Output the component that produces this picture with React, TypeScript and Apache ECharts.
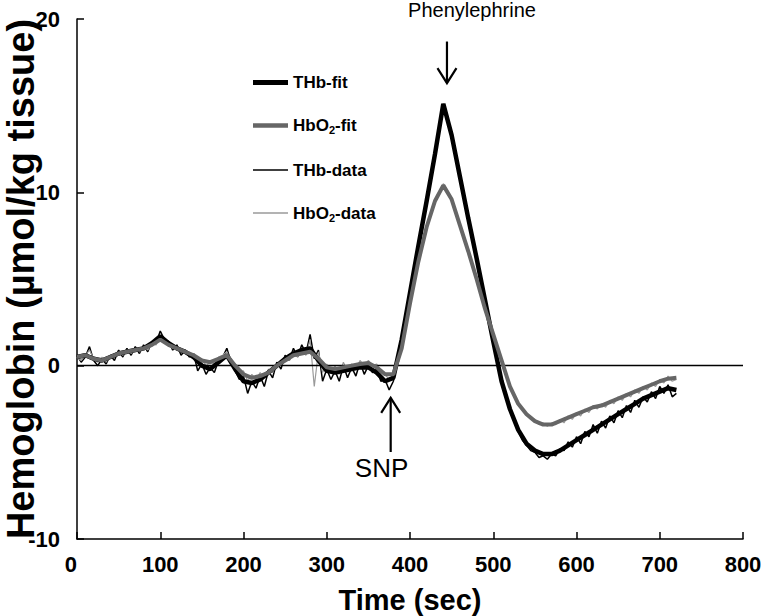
import React, { useEffect, useRef } from "react";
import * as echarts from "echarts";

// ---------- data ----------
const DATA_STEP = 5; // seconds between raw samples
const FIT_STEP = 10; // seconds between fit samples

const thbData = [
  0.6, 0.2, 0.5, 1.1, 0.3, 0.0, 0.4, 0.1, 0.6, 0.3, 0.9, 0.5, 1.0, 0.6, 1.1, 0.7, 1.2, 0.8, 1.4, 1.3,
  2.0, 1.5, 1.4, 0.9, 1.2, 0.6, 0.9, 0.5, 0.7, -0.3, 0.1, -0.5, -0.1, -0.4, 0.3, 0.5, 1.0, 0.2, -0.3, -0.8,
  -0.6, -1.6, -0.9, -1.3, -0.6, -1.2, -0.3, -0.7, 0.2, -0.2, 0.6, 0.3, 1.0, 0.5, 1.2, 0.7, 1.8, 0.4, 0.9, -0.9,
  -0.2, -0.8, -0.3, -0.9, 0.0, -0.7, -0.1, -0.6, 0.2, -0.5, 0.0, -0.4, -0.2, -0.9, -0.8, -1.4, -0.9, 0.2, 1.5, 2.9,
  4.2, 5.5, 6.9, 8.2, 9.5, 10.9, 12.2, 13.5, 15.1, 14.4, 13.3, 12.1, 10.9, 9.7, 8.5, 7.4, 6.2, 5.0, 3.8, 2.6,
  1.4, 0.2, -0.9, -1.8, -2.6, -3.2, -3.8, -4.3, -4.6, -4.9, -5.0, -5.3, -5.2, -5.4, -5.1, -5.2, -4.8, -4.9, -4.4, -4.7,
  -4.1, -4.5, -3.8, -4.1, -3.4, -3.9, -3.2, -3.6, -2.9, -3.3, -2.6, -3.0, -2.3, -2.7, -2.0, -2.4, -1.8, -2.1, -1.5, -1.9,
  -1.2, -1.6, -1.1, -1.8, -1.6,
];

const hbo2Data = [
  0.5, 0.3, 0.6, 0.9, 0.4, 0.2, 0.5, 0.2, 0.6, 0.5, 0.8, 0.6, 0.9, 0.7, 1.0, 0.8, 1.1, 0.9, 1.3, 1.2,
  1.7, 1.4, 1.3, 1.0, 1.1, 0.8, 0.9, 0.6, 0.7, 0.2, 0.4, 0.0, 0.2, 0.1, 0.5, 0.6, 0.8, 0.3, 0.0, -0.4,
  -0.3, -0.9, -0.5, -0.8, -0.4, -0.7, -0.2, -0.4, 0.1, 0.0, 0.5, 0.3, 0.8, 0.5, 0.9, 0.6, 1.5, -1.2, 0.8, -0.4,
  0.1, -0.4, 0.0, -0.5, 0.2, -0.3, 0.1, -0.2, 0.3, 0.0, 0.3, 0.0, 0.1, -0.4, -0.5, -0.8, -0.5, 0.1, 1.0, 2.3,
  3.6, 4.9, 6.0, 7.1, 8.0, 8.8, 9.5, 10.0, 10.5, 10.1, 9.6, 8.9, 8.1, 7.4, 6.6, 5.8, 5.0, 4.2, 3.3, 2.6,
  1.8, 1.0, 0.3, -0.5, -1.2, -1.7, -2.2, -2.5, -2.8, -3.1, -3.2, -3.4, -3.3, -3.5, -3.3, -3.4, -3.1, -3.3, -2.9, -3.1,
  -2.7, -2.9, -2.5, -2.7, -2.3, -2.5, -2.2, -2.4, -2.0, -2.2, -1.8, -2.0, -1.6, -1.8, -1.4, -1.6, -1.2, -1.4, -1.0, -1.2,
  -0.8, -1.0, -0.6, -0.9, -0.8,
];

const thbFit = [
  0.5, 0.6, 0.4, 0.3, 0.5, 0.7, 0.8, 0.9, 1.0, 1.3,
  1.7, 1.3, 1.0, 0.8, 0.5, 0.0, -0.2, 0.2, 0.6, -0.2,
  -0.9, -1.0, -0.8, -0.4, 0.0, 0.4, 0.7, 0.9, 1.0, 0.3,
  -0.3, -0.4, -0.3, -0.2, -0.1, -0.1, -0.4, -0.9, -0.7, 1.5,
  4.2, 6.9, 9.5, 12.2, 15.1, 13.3, 10.9, 8.5, 6.2, 3.8,
  1.4, -0.9, -2.5, -3.7, -4.5, -4.9, -5.1, -5.1, -4.9, -4.6,
  -4.3, -4.0, -3.7, -3.4, -3.1, -2.8, -2.5, -2.2, -1.9, -1.7,
  -1.5, -1.3, -1.4,
];

const hbo2Fit = [
  0.5, 0.6, 0.4, 0.3, 0.5, 0.7, 0.8, 0.9, 1.0, 1.2,
  1.5, 1.2, 1.0, 0.8, 0.6, 0.3, 0.2, 0.4, 0.6, 0.0,
  -0.5, -0.7, -0.6, -0.4, 0.0, 0.3, 0.6, 0.7, 0.8, 0.4,
  -0.1, -0.2, -0.1, 0.0, 0.1, 0.15, -0.1, -0.5, -0.5, 1.0,
  3.6, 6.0, 8.0, 9.5, 10.4, 9.6, 8.1, 6.6, 5.0, 3.3,
  1.8, 0.3, -1.2, -2.2, -2.8, -3.2, -3.4, -3.4, -3.2, -3.0,
  -2.8, -2.6, -2.4, -2.3, -2.1, -1.9, -1.7, -1.5, -1.3, -1.1,
  -0.9, -0.75, -0.7,
];

const legendNames = ["THb-fit", "HbO2-fit", "THb-data", "HbO2-data"];

// annotation arrows: [time, tip value, tail value, label time, label value]
const arrowLabels = ["Phenylephrine", "SNP"];
const arrowLabelSizes = [20, 26];
const arrows = [
  [444.4, 16.3, 18.7, 474.5, 20.5],
  [376.8, -1.86, -4.98, 365.8, -5.9],
];

const FONT = '"Liberation Sans", Arial, Helvetica, sans-serif';

function toPairs(values: number[], step: number) {
  return values.map((v, i) => [i * step, v]);
}

const COLORS: Record<string, string> = {
  "THb-fit": "#000000",
  "HbO2-fit": "#666666",
  "THb-data": "#000000",
  "HbO2-data": "#9a9a9a",
};
const LEGEND_ICONS: Record<string, string> = {
  "THb-fit": "path://M0,0H35V5H0Z",
  "HbO2-fit": "path://M0,0H35V4.5H0Z",
  "THb-data": "path://M0,0H35V1.5H0Z",
  "HbO2-data": "path://M0,0H35V1.5H0Z",
};

export default function App() {
  const ref = useRef<HTMLDivElement>(null);

  useEffect(() => {
    if (!ref.current) return;
    const chart = echarts.init(ref.current, undefined, { renderer: "svg" });

    const legendFormatter = (name: string) => {
      if (name.startsWith("HbO2")) {
        return "{n|HbO}{s|2}{n|" + name.slice(4) + "}";
      }
      return "{n|" + name + "}";
    };

    const option: any = {
      animation: false,
      backgroundColor: "#ffffff",
      grid: {
        left: 77,
        right: 20,
        top: 19,
        bottom: 77,
        containLabel: false,
        outerBoundsMode: "none",
      },
      legend: {
        orient: "vertical",
        left: 248,
        top: 69,
        itemWidth: 35,
        itemHeight: 14,
        itemGap: 26,
        symbolKeepAspect: true,
        data: legendNames.map((n) => ({
          name: n,
          icon: LEGEND_ICONS[n],
          itemStyle: { color: COLORS[n], borderWidth: 0 },
          lineStyle: { width: 0 },
        })),
        formatter: legendFormatter,
        selectedMode: false,
        textStyle: {
          color: "#000",
          fontFamily: FONT,
          fontWeight: "bold",
          fontSize: 17,
          rich: {
            n: { fontSize: 17, fontWeight: "bold", color: "#000", fontFamily: FONT },
            s: {
              fontSize: 11,
              fontWeight: "bold",
              color: "#000",
              fontFamily: FONT,
              padding: [9, 0, 0, 0],
            },
          },
        },
      },
      xAxis: {
        type: "value",
        min: 0,
        max: 800,
        interval: 100,
        name: "Time (sec)",
        nameLocation: "middle",
        nameGap: 46,
        nameMoveOverlap: false,
        nameTextStyle: { color: "#000", fontFamily: FONT, fontWeight: "bold", fontSize: 29 },
        axisLine: { show: true, onZero: false, lineStyle: { color: "#000", width: 1.5 } },
        axisTick: { show: true, inside: true, length: 7, lineStyle: { color: "#000", width: 1.5 } },
        splitLine: { show: false },
        axisLabel: {
          color: "#000",
          fontFamily: FONT,
          fontWeight: "bold",
          fontSize: 22,
          margin: 14,
          alignMinLabel: "right",
        },
      },
      yAxis: {
        type: "value",
        min: -10,
        max: 20,
        interval: 10,
        name: "Hemoglobin (µmol/kg tissue)",
        nameLocation: "middle",
        nameGap: 37,
        nameMoveOverlap: false,
        nameTextStyle: {
          color: "#000",
          fontFamily: FONT,
          fontWeight: "bold",
          fontSize: 38,
          lineHeight: 38,
        },
        axisLine: { show: true, onZero: false, lineStyle: { color: "#000", width: 1.5 } },
        axisTick: { show: true, inside: true, length: 7, lineStyle: { color: "#000", width: 1.5 } },
        splitLine: { show: false },
        axisLabel: {
          color: "#000",
          fontFamily: FONT,
          fontWeight: "bold",
          fontSize: 22,
          margin: 17,
        },
      },
      series: [
        {
          name: "THb-data",
          type: "line",
          data: toPairs(thbData, DATA_STEP),
          symbol: "none",
          showSymbol: false,
          z: 2,
          itemStyle: { color: COLORS["THb-data"] },
          lineStyle: { color: COLORS["THb-data"], width: 1.5 },
          markLine: {
            silent: true,
            symbol: ["none", "none"],
            label: { show: false },
            lineStyle: { color: "#000", width: 1.3, type: "solid" },
            data: [{ yAxis: 0 }],
          },
        },
        {
          name: "HbO2-data",
          type: "line",
          data: toPairs(hbo2Data, DATA_STEP),
          symbol: "none",
          showSymbol: false,
          z: 3,
          itemStyle: { color: COLORS["HbO2-data"] },
          lineStyle: { color: COLORS["HbO2-data"], width: 1.2 },
        },
        {
          name: "THb-fit",
          type: "line",
          data: toPairs(thbFit, FIT_STEP),
          symbol: "none",
          showSymbol: false,
          z: 4,
          itemStyle: { color: COLORS["THb-fit"] },
          lineStyle: { color: COLORS["THb-fit"], width: 4.5 },
        },
        {
          name: "HbO2-fit",
          type: "line",
          data: toPairs(hbo2Fit, FIT_STEP),
          symbol: "none",
          showSymbol: false,
          z: 5,
          itemStyle: { color: COLORS["HbO2-fit"] },
          lineStyle: { color: COLORS["HbO2-fit"], width: 4 },
        },
        {
          name: "annotations",
          type: "custom",
          silent: true,
          clip: false,
          z: 10,
          data: arrows,
          renderItem: (params: any, api: any) => {
            const x = api.value(0);
            const tip = api.coord([x, api.value(1)]);
            const tail = api.coord([x, api.value(2)]);
            const lab = api.coord([api.value(3), api.value(4)]);
            const sgn = tail[1] < tip[1] ? -1 : 1;
            const i = params.dataIndex;
            return {
              type: "group",
              children: [
                {
                  type: "line",
                  shape: { x1: tip[0], y1: tip[1], x2: tail[0], y2: tail[1] },
                  style: { stroke: "#000", lineWidth: 2.2 },
                },
                {
                  type: "polyline",
                  shape: {
                    points: [
                      [tip[0] - 9.5, tip[1] + sgn * 15],
                      [tip[0], tip[1]],
                      [tip[0] + 9.5, tip[1] + sgn * 15],
                    ],
                  },
                  style: { stroke: "#000", fill: null, lineWidth: 2.2 },
                },
                {
                  type: "text",
                  x: lab[0],
                  y: lab[1],
                  style: {
                    text: arrowLabels[i],
                    fontSize: arrowLabelSizes[i],
                    fontFamily: FONT,
                    fill: "#000",
                    align: "center",
                    verticalAlign: "middle",
                  },
                },
              ],
            };
          },
        },
      ],
    };

    chart.setOption(option);
    return () => chart.dispose();
  }, []);

  return (
    <div
      ref={ref}
      style={{ position: "absolute", left: 0, top: 0, width: 763, height: 616, background: "#fff" }}
    />
  );
}
